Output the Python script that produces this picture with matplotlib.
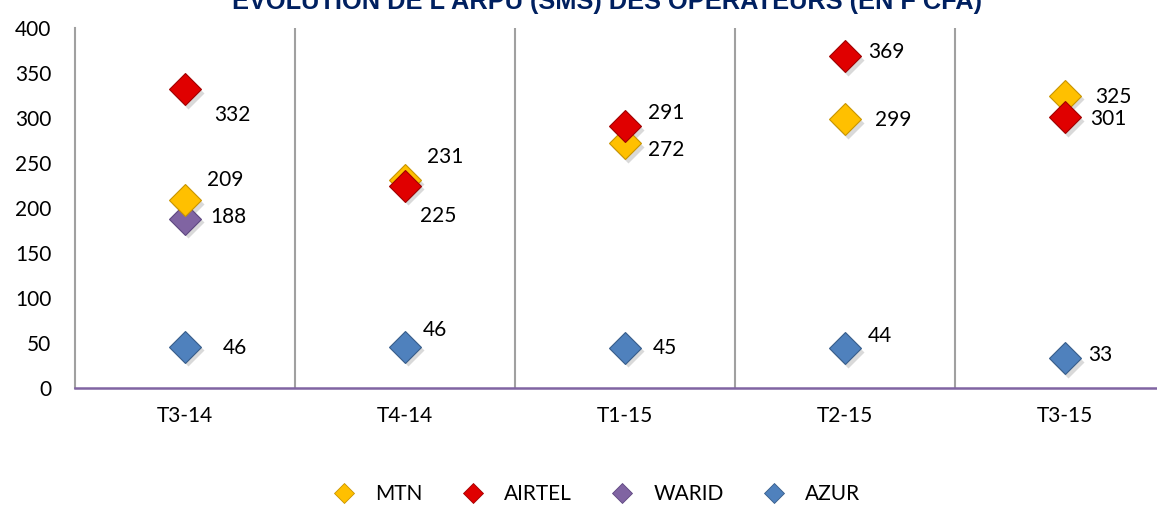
import matplotlib
matplotlib.use("Agg")
import matplotlib.pyplot as plt
from matplotlib.lines import Line2D

plt.rcParams['font.family'] = ['Lato', 'DejaVu Sans']

categories = ["T3-14", "T4-14", "T1-15", "T2-15", "T3-15"]
mtn = [209, 231, 272, 299, 325]
airtel = [332, 225, 291, 369, 301]
warid = [188, None, None, None, None]
azur = [46, 46, 45, 44, 33]
series_names = ["MTN", "AIRTEL", "WARID", "AZUR"]
yticks = [0, 50, 100, 150, 200, 250, 300, 350, 400]
title = "EVOLUTION DE L'ARPU (SMS) DES OPERATEURS (EN F CFA)"

colors = {"MTN": ("#FFC000", "#C89400"), "AIRTEL": ("#E00000", "#A00000"),
          "WARID": ("#8064A2", "#5E4780"), "AZUR": ("#4F81BD", "#385D8A")}

# label offsets in pixels (dx, dy downwards)
offsets = {
    "MTN": [(40, -20), (40, -23), (41, 7), (48, 1), (48, 1)],
    "AIRTEL": [(47, 26), (33, 30), (41, -13), (41, -4), (43, 2)],
    "WARID": [(43, -2), None, None, None, None],
    "AZUR": [(50, 1), (30, -17), (40, 0), (35, -12), (35, -3)],
}

W, H = 1157, 507
fig = plt.figure(figsize=(W / 100, H / 100), dpi=100)
ax = fig.add_axes([75 / W, (H - 388) / H, 1100 / W, 360 / H])
ax.set_xlim(-0.5, len(categories) - 0.5)
ax.set_ylim(0, 400)

for s in ["top", "right"]:
    ax.spines[s].set_visible(False)
ax.spines["left"].set_color("#A0A0A0")
ax.spines["left"].set_linewidth(1.5)
ax.spines["bottom"].set_color("#8064A2")
ax.spines["bottom"].set_linewidth(1.8)

for i in range(len(categories) - 1):
    ax.axvline(i + 0.5, color="#A0A0A0", lw=1.5, zorder=1)

ax.set_yticks(yticks)
ax.set_yticklabels([str(v) for v in yticks], fontsize=15)
ax.set_xticks(range(len(categories)))
ax.set_xticklabels(categories, fontsize=15)
ax.tick_params(axis="both", length=0, pad=13)
ax.tick_params(axis="y", pad=17)

data = {"MTN": mtn, "AIRTEL": airtel, "WARID": warid, "AZUR": azur}
order = ["WARID", "MTN", "AIRTEL", "AZUR"]
ms = 16
for name in order:
    vals = data[name]
    fc, ec = colors[name]
    for i, v in enumerate(vals):
        if v is None:
            continue
        ax.plot(i + 0.015, v - 4, marker="D", ms=ms, color="#00000026", mec="none",
                zorder=2, clip_on=False)
        ax.plot(i, v, marker="D", ms=ms, color=fc, mec=ec, mew=0.8, zorder=3,
                clip_on=False)
        dx, dy = offsets[name][i]
        ax.annotate(str(v), (i, v), xytext=(dx * 0.72, -dy * 0.72),
                    textcoords="offset points", ha="center", va="center",
                    fontsize=15, zorder=4)

fig.text(607 / W, 1 - 9 / H, title, ha="center", va="baseline",
         fontsize=18.3, fontweight="bold", color="#002060",
         family=["Liberation Sans", "DejaVu Sans"])

handles = [Line2D([0], [0], marker="D", ls="none", ms=10, color=colors[n][0],
                  mec=colors[n][1], mew=0.6) for n in series_names]
fig.legend(handles, series_names, loc="center", bbox_to_anchor=(597 / W, 1 - 494 / H),
           ncol=4, frameon=False, fontsize=15, handlelength=1.0, handletextpad=1.0,
           columnspacing=1.9)

fig.savefig("out.png", dpi=100)
